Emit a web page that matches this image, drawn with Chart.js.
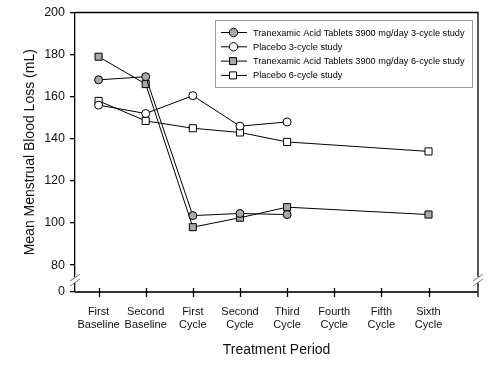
<!DOCTYPE html>
<html>
<head>
<meta charset="utf-8">
<script src="https://cdn.jsdelivr.net/npm/chart.js@4.4.0/dist/chart.umd.min.js"></script>
<style>
  html, body { margin: 0; padding: 0; background: #fff; }
  #wrap { width: 497px; height: 380px; }
</style>
</head>
<body>
<div id="wrap"><canvas id="myChart" width="497" height="380"></canvas></div>
<script>
const periods = [['First', 'Baseline'], ['Second', 'Baseline'], ['First', 'Cycle'], ['Second', 'Cycle'],
    ['Third', 'Cycle'], ['Fourth', 'Cycle'], ['Fifth', 'Cycle'], ['Sixth', 'Cycle']];

const tranexamic3 = [168, 169.5, 103.5, 104.5, 104, null, null, null];
const placebo3 = [156, 152, 160.5, 146, 148, null, null, null];
const tranexamic6 = [179, 166, 98, 102.5, 107.5, null, null, 104];
const placebo6 = [158, 148.5, 145, 143, 138.5, null, null, 134];

const seriesNames = [
    'Tranexamic Acid Tablets 3900 mg/day 3-cycle study',
    'Placebo 3-cycle study',
    'Tranexamic Acid Tablets 3900 mg/day 6-cycle study',
    'Placebo 6-cycle study'
];

const yTicks = [80, 100, 120, 140, 160, 180, 200];
const yBreakBottom = 67.2; // where the "0" sits below the axis break

const grey = '#a8a8a8';

function toPoints(values) {
    return values.map((v, i) => ({ x: i, y: v }));
}

function makeSet(label, values, shape, fill) {
    return {
        label: label,
        data: toPoints(values),
        borderColor: '#000',
        borderWidth: 1,
        pointStyle: shape,
        pointRadius: shape === 'rect' ? 5 : 4,
        pointBackgroundColor: fill,
        pointBorderColor: '#000',
        pointBorderWidth: 1,
        spanGaps: true,
        tension: 0
    };
}

// frame, crossing x ticks, axis breaks and the boxed legend
const decorations = {
    id: 'decorations',
    afterDraw(chart) {
        const ctx = chart.ctx;
        const a = chart.chartArea;
        const xs = chart.scales.x;
        ctx.save();

        // top and right border
        ctx.strokeStyle = '#000';
        ctx.lineWidth = 1.3;
        ctx.beginPath();
        ctx.moveTo(a.left, a.top);
        ctx.lineTo(a.right, a.top);
        ctx.lineTo(a.right, a.bottom + 5);
        ctx.stroke();

        // x axis line and crossing ticks
        ctx.strokeStyle = '#333';
        ctx.lineWidth = 2;
        ctx.beginPath();
        ctx.moveTo(a.left, a.bottom);
        ctx.lineTo(a.right, a.bottom);
        ctx.stroke();
        ctx.lineWidth = 1.3;
        ctx.strokeStyle = '#000';
        for (let i = 0; i < periods.length; i++) {
            const px = Math.round(xs.getPixelForValue(i)) + 0.5;
            ctx.beginPath();
            ctx.moveTo(px, a.bottom - 4);
            ctx.lineTo(px, a.bottom + 5);
            ctx.stroke();
        }

        // axis breaks
        const breakY = a.bottom - 12;
        [a.left, a.right].forEach(x0 => {
            ctx.fillStyle = '#fff';
            ctx.fillRect(x0 - 2, breakY - 3, 4, 6);
            ctx.strokeStyle = '#777';
            ctx.lineWidth = 1;
            ctx.beginPath();
            ctx.moveTo(x0 - 5, breakY + 6);
            ctx.lineTo(x0 + 5, breakY - 1);
            ctx.moveTo(x0 - 5, breakY + 1);
            ctx.lineTo(x0 + 5, breakY - 6);
            ctx.stroke();
        });

        // legend box
        const lx = 215, ly = 20, lw = 257, lh = 67;
        ctx.strokeStyle = '#999';
        ctx.lineWidth = 1;
        ctx.strokeRect(lx + 0.5, ly + 0.5, lw, lh);
        ctx.font = '9.2px "Liberation Sans", Arial, sans-serif';
        ctx.textBaseline = 'middle';
        ctx.textAlign = 'left';
        chart.data.datasets.forEach((ds, i) => {
            const y = 32.5 + i * 14.3;
            ctx.strokeStyle = '#000';
            ctx.lineWidth = 1;
            ctx.beginPath();
            ctx.moveTo(221, y);
            ctx.lineTo(247, y);
            ctx.stroke();
            ctx.fillStyle = ds.pointBackgroundColor;
            ctx.beginPath();
            if (ds.pointStyle === 'rect') {
                ctx.rect(229.5, y - 3.5, 7, 7);
            } else {
                ctx.arc(233.5, y, 4.2, 0, Math.PI * 2);
            }
            ctx.fill();
            ctx.stroke();
            ctx.fillStyle = '#000';
            ctx.fillText(ds.label, 253, y + 0.5);
        });
        ctx.restore();
    }
};

const data = {
    datasets: [
        makeSet(seriesNames[0], tranexamic3, 'circle', grey),
        makeSet(seriesNames[1], placebo3, 'circle', '#fff'),
        makeSet(seriesNames[2], tranexamic6, 'rect', grey),
        makeSet(seriesNames[3], placebo6, 'rect', '#fff')
    ]
};

const fontFamily = '"Liberation Sans", Arial, sans-serif';
const titleFont = { family: fontFamily, size: 14 };

const config = {
    type: 'line',
    data: data,
    options: {
        responsive: false,
        animation: false,
        layout: { padding: { top: 12, right: 19, left: 0, bottom: 0 } },
        plugins: {
            legend: { display: false },
            tooltip: { enabled: false }
        },
        scales: {
            x: {
                type: 'linear',
                min: -0.5,
                max: 8.05,
                afterBuildTicks: scale => {
                    scale.ticks = periods.map((p, i) => ({ value: i }));
                },
                afterFit: scale => { scale.height = 88; },
                grid: { display: false },
                border: { display: false },
                ticks: {
                    autoSkip: false,
                    maxRotation: 0,
                    padding: 6,
                    color: '#111',
                    font: { family: fontFamily, size: 11, lineHeight: 1.15 },
                    callback: value => periods[value]
                },
                title: {
                    display: true,
                    text: 'Treatment Period',
                    color: '#111',
                    font: titleFont,
                    padding: { top: 0, bottom: 21 }
                }
            },
            y: {
                min: yBreakBottom,
                max: 200,
                afterBuildTicks: scale => {
                    scale.ticks = [yBreakBottom].concat(yTicks).map(v => ({ value: v }));
                },
                afterFit: scale => { scale.width = 75; },
                grid: { drawOnChartArea: false, tickLength: 5, color: '#000', lineWidth: 1.3 },
                border: { color: '#000', width: 1.3 },
                ticks: {
                    padding: 5,
                    color: '#111',
                    font: { family: fontFamily, size: 12.5 },
                    callback: value => value === yBreakBottom ? '0' : value
                },
                title: {
                    display: true,
                    text: 'Mean Menstrual Blood Loss (mL)',
                    color: '#111',
                    font: titleFont,
                    padding: { top: 22, bottom: 0 }
                }
            }
        }
    },
    plugins: [decorations]
};

const myChart = new Chart(document.getElementById('myChart'), config);
</script>
</body>
</html>
